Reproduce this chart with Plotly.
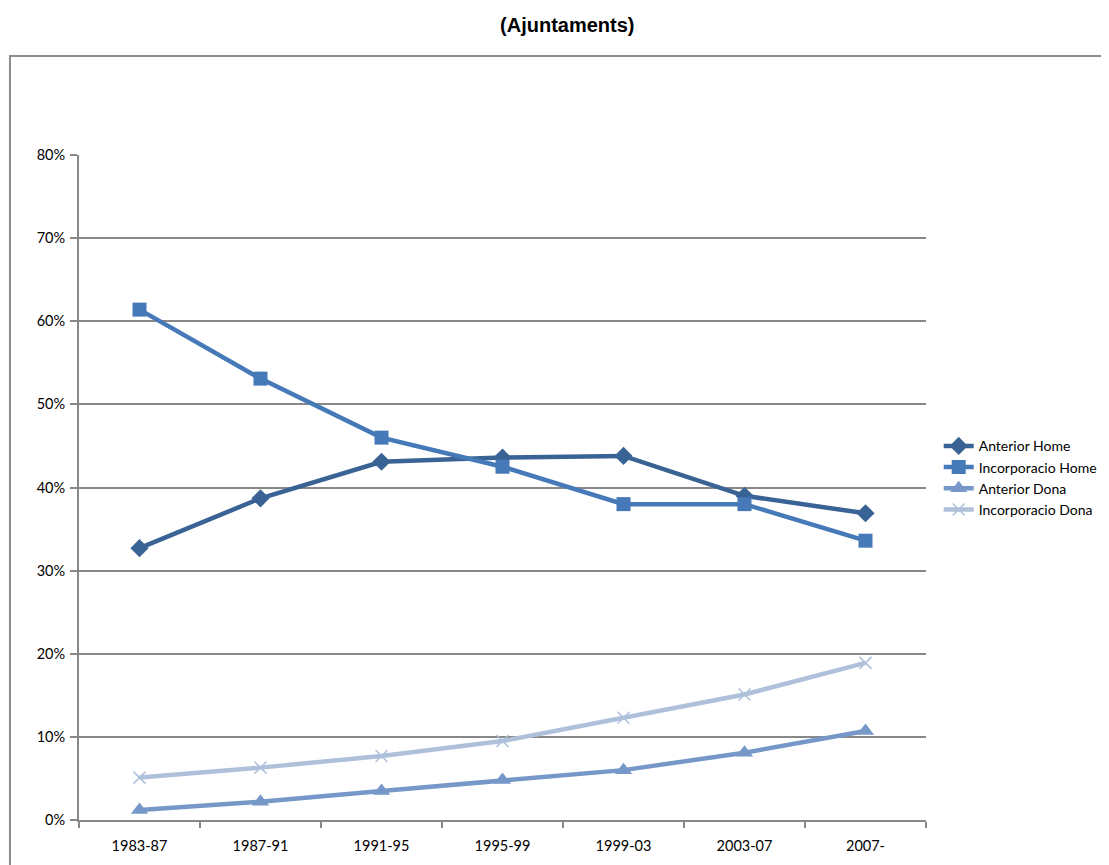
import plotly.graph_objects as go

# periodes i percentatges (llegits del grafic)
periodes = ["1983-87", "1987-91", "1991-95", "1995-99", "1999-03", "2003-07", "2007-"]
anterior_home = [32.7, 38.7, 43.1, 43.6, 43.8, 39.0, 36.9]
incorporacio_home = [61.4, 53.1, 46.0, 42.5, 38.0, 38.0, 33.6]
anterior_dona = [1.2, 2.2, 3.5, 4.8, 6.0, 8.1, 10.7]
incorporacio_dona = [5.1, 6.3, 7.7, 9.5, 12.3, 15.1, 18.9]

GRID = "#888888"
FONT = "Lato, 'Open Sans', sans-serif"

series = [
    ("Anterior Home", anterior_home, "#3A6395", dict(symbol="diamond", size=14)),
    ("Incorporacio Home", incorporacio_home, "#4679B8", dict(symbol="square", size=14)),
    ("Anterior Dona", anterior_dona, "#7698C9", dict(symbol="triangle-up", size=15)),
    ("Incorporacio Dona", incorporacio_dona, "#AFC0DB",
     dict(symbol="x-thin-open", size=12, line=dict(width=1.5, color="#AFC0DB"))),
]

fig = go.Figure()
for name, vals, color, marker in series:
    fig.add_trace(go.Scatter(
        x=periodes, y=[v / 100 for v in vals], name=name, mode="lines+markers",
        line=dict(color=color, width=4.5), marker=dict(color=color, **marker),
    ))

# la pagina html te 8px de marge: la figura es fa una mica mes petita
fig.update_layout(
    width=1101, height=857,
    margin=dict(l=71, r=183, t=147, b=45, autoexpand=False),
    paper_bgcolor="white", plot_bgcolor="white",
    font=dict(family=FONT, size=14.5, color="#000000"),
    title=dict(text="<b>(Ajuntaments)</b>", x=0.508, xanchor="center", y=0.98, yanchor="middle",
               font=dict(family="'Liberation Sans Narrow', 'Liberation Sans', Arial", size=20)),
    showlegend=True,
    legend=dict(x=1.015, xanchor="left", y=0.586, yanchor="top", tracegroupgap=0,
                font=dict(family=FONT, size=14), itemwidth=30, bgcolor="rgba(0,0,0,0)"),
    xaxis=dict(type="category", showgrid=False, showline=True, linecolor=GRID, linewidth=2,
               ticks="outside", tickson="boundaries", ticklen=6, tickwidth=2, tickcolor=GRID,
               ticklabelstandoff=12, range=[-0.5, 6.5], fixedrange=True),
    yaxis=dict(range=[0, 0.8], dtick=0.1, tickformat=".0%", showgrid=True, gridcolor=GRID,
               gridwidth=2, showline=True, linecolor=GRID, linewidth=2, ticks="outside",
               ticklen=7, tickwidth=2, tickcolor=GRID, zeroline=False, ticklabelstandoff=2),
    shapes=[dict(type="rect", xref="paper", yref="paper", x0=-0.0815, x1=1.5,
                 y0=-0.3, y1=1.149, line=dict(color="#8C8C8C", width=2), layer="below")],
)

fig.write_html("out.html")
